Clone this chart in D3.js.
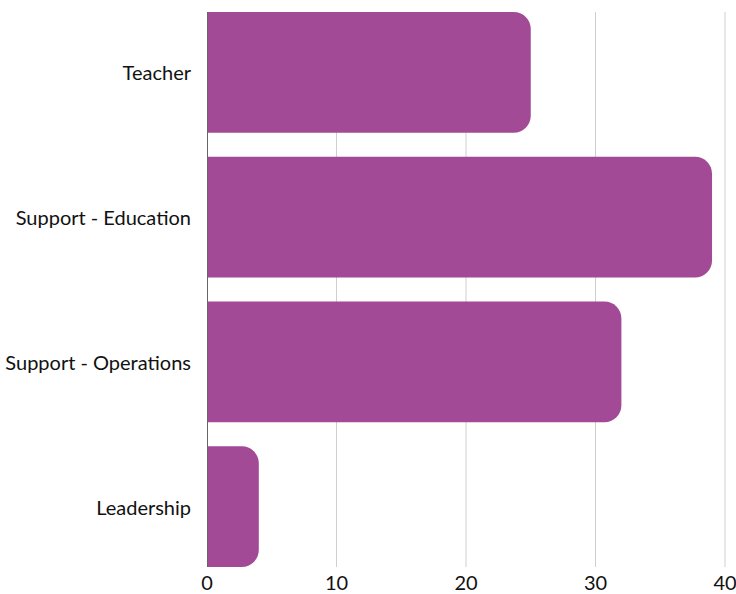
<!DOCTYPE html>
<html>
<head>
<meta charset="utf-8">
<script src="https://cdn.jsdelivr.net/npm/d3@7"></script>
<style>
  body { margin: 0; background: #fff; }
  svg { display: block; font-family: Lato, "Noto Sans", sans-serif; }
  .cat-label { font-size: 20px; fill: #111; }
  .tick-label { font-size: 20px; fill: #111; }
</style>
</head>
<body>
<div id="chart"></div>
<script>
var categories = ["Teacher", "Support - Education", "Support - Operations", "Leadership"]
var values = [25, 39, 32, 4]
var xTicks = [0, 10, 20, 30, 40]

var W = 736, H = 594
var margin = { top: 12, right: 11, bottom: 27, left: 207 }
var width = W - margin.left - margin.right,
    height = H - margin.top - margin.bottom

var svg = d3.select("#chart").append("svg")
    .attr("width", W)
    .attr("height", H)

var g = svg.append("g")
    .attr("transform", "translate(" + margin.left + "," + margin.top + ")")

var x = d3.scaleLinear().domain([0, 40]).range([0, 518])
var y = d3.scaleBand().domain(categories).range([0, height]).paddingInner(0.166).paddingOuter(0)

// grid lines
g.selectAll(".grid")
    .data(xTicks.slice(1))
    .enter().append("line")
    .attr("class", "grid")
    .attr("x1", d => x(d)).attr("x2", d => x(d))
    .attr("y1", 0).attr("y2", height)
    .attr("stroke", "#cfcfcf")
    .attr("stroke-width", 1)

// bars, square left side, rounded right side
function barPath(w, h, r){
    r = Math.min(r, w, h / 2)
    return "M0,0H" + (w - r) +
        "A" + r + "," + r + " 0 0 1 " + w + "," + r +
        "V" + (h - r) +
        "A" + r + "," + r + " 0 0 1 " + (w - r) + "," + h +
        "H0Z"
}

g.selectAll(".bar")
    .data(values)
    .enter().append("path")
    .attr("class", "bar")
    .attr("transform", (d, i) => "translate(0," + y(categories[i]) + ")")
    .attr("d", d => barPath(x(d), y.bandwidth(), 17))
    .attr("fill", "#a24a95")

// y axis line
g.append("line")
    .attr("x1", 0.5).attr("x2", 0.5)
    .attr("y1", 0).attr("y2", height)
    .attr("stroke", "#666")
    .attr("stroke-width", 1)

// category labels
g.selectAll(".cat-label")
    .data(categories)
    .enter().append("text")
    .attr("class", "cat-label")
    .attr("x", -16)
    .attr("y", d => y(d) + y.bandwidth() / 2)
    .attr("text-anchor", "end")
    .attr("dominant-baseline", "central")
    .text(d => d)

// x tick labels
g.selectAll(".tick-label")
    .data(xTicks)
    .enter().append("text")
    .attr("class", "tick-label")
    .attr("x", d => x(d))
    .attr("y", height + 23)
    .attr("text-anchor", "middle")
    .text(d => d)
</script>
</body>
</html>
